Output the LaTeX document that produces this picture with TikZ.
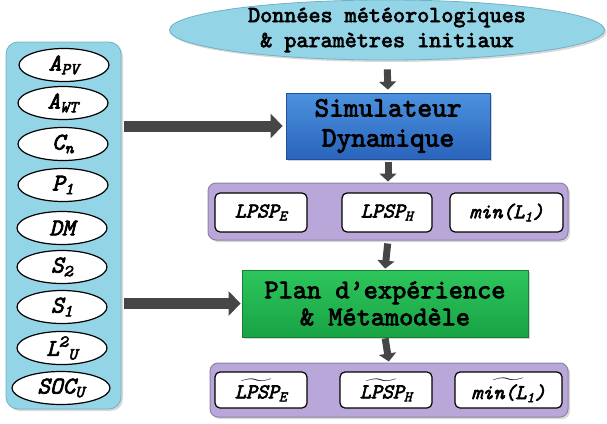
\documentclass[tikz,border=0pt]{standalone}
\usepackage{fontspec}
\setmonofont{lmmono10-regular.otf}[BoldFont=lmmono10-regular.otf, BoldFeatures={FakeBold=3},
  ItalicFont=lmmono10-italic.otf, BoldItalicFont=lmmono10-italic.otf, BoldItalicFeatures={FakeBold=3}]
\usepackage{amsmath}
\usetikzlibrary{arrows.meta,shapes.geometric,shadows}

\definecolor{bleuclair}{HTML}{93D4E6}
\definecolor{bleubord}{HTML}{6FB2C6}
\definecolor{bleuhaut}{HTML}{4C92DF}
\definecolor{bleubas}{HTML}{2A64BC}
\definecolor{vertHaut}{HTML}{2EC65C}
\definecolor{vertBas}{HTML}{18A345}
\definecolor{violetclair}{HTML}{B8A7D8}
\definecolor{violetbord}{HTML}{8E84A6}
\definecolor{gris}{HTML}{464646}

\newcommand\lab{\fontsize{24}{26}\selectfont\ttfamily\bfseries\itshape}
\newcommand\labc{\fontsize{21}{24}\selectfont\ttfamily\bfseries\itshape}
\newcommand\chapeau[1]{$\widetilde{\mbox{#1}}$}

\begin{document}
\begin{tikzpicture}[x=1pt,y=-1pt,
  panneau/.style={draw=bleubord, fill=bleuclair, rounded corners=12pt, line width=0.8pt,
    drop shadow={opacity=0.3, shadow xshift=2pt, shadow yshift=-2pt}},
  param/.style={ellipse, draw, fill=white, line width=1.2pt, minimum width=90pt,
    minimum height=33pt, inner sep=0pt, font=\lab},
  bloc/.style={draw, line width=0.8pt, align=center,
    drop shadow={opacity=0.35, shadow xshift=2pt, shadow yshift=-2pt}},
  sortie/.style={draw=violetbord, fill=violetclair, rounded corners=8pt, line width=1pt,
    drop shadow={opacity=0.3, shadow xshift=2pt, shadow yshift=-2pt}},
  critere/.style={draw, fill=white, rounded corners=5pt, line width=1.2pt,
    inner sep=0pt, font=\labc},
  fleche/.style={draw=gris, line width=11pt, -{Triangle[length=12pt,width=24pt]},
    shorten <=3pt},
  petite/.style={draw=gris, line width=7pt, -{Triangle[length=8pt,width=17pt]},
    shorten <=3pt, shorten >=1pt}
]
\useasboundingbox (0,0) rectangle (607,423);

\node[panneau, minimum width=115pt, minimum height=367pt] (params) at (63.5,225.5) {};
\node[param] (apv) at (64,65) {A\textsubscript{PV}};
\node[param] (awt) at (63,103) {A\textsubscript{WT}};
\node[param] (cn) at (63,144) {C\textsubscript{n}};
\node[param] (p1) at (63,185) {P\textsubscript{1}};
\node[param] (dm) at (62,228) {DM};
\node[param] (s2) at (62,267) {S\textsubscript{2}};
\node[param] (s1) at (62,307) {S\textsubscript{1}};
\node[param] (l2u) at (62,348) {L\textsuperscript{2}\textsubscript{U}};
\node[param, minimum width=98pt] (socu) at (61,388) {SOC\textsubscript{U}};

\node[ellipse, draw=bleubord, fill=bleuclair, line width=0.8pt, minimum width=435pt,
  minimum height=60pt, inner xsep=0pt, inner ysep=-8pt, align=center,
  font=\fontsize{23}{25}\selectfont\ttfamily\bfseries,
  drop shadow={opacity=0.3, shadow xshift=2pt, shadow yshift=-2pt}] (donnees) at (387,30)
  {Données météorologiques\\\& paramètres initiaux};

\node[bloc, draw=bleubas!80!black, top color=bleuhaut, bottom color=bleubas,
  minimum width=204pt, minimum height=66pt,
  font=\fontsize{28}{30}\selectfont\ttfamily\bfseries] (simu) at (388,126)
  {Simulateur\\Dynamique};

\node[sortie, minimum width=360pt, minimum height=57pt] (res1) at (388,211.5) {};
\node[critere, minimum width=92pt, minimum height=39pt] (lpspE) at (261,212.5) {LPSP\textsubscript{E}};
\node[critere, minimum width=90pt, minimum height=39pt] (lpspH) at (387,212.5) {LPSP\textsubscript{H}};
\node[critere, minimum width=113pt, minimum height=39pt] (minL) at (506.5,212.5) {min(L\textsubscript{1})};

\node[bloc, draw=vertBas!80!black, top color=vertHaut, bottom color=vertBas,
  minimum width=286pt, minimum height=67pt,
  font=\fontsize{27}{27}\selectfont\ttfamily\bfseries] (plan) at (385,303.5)
  {Plan d’expérience\\\& Métamodèle};

\node[sortie, minimum width=358pt, minimum height=54pt] (res2) at (389,390) {};
\node[critere, minimum width=92pt, minimum height=36pt] (lpspEt) at (261,390) {\chapeau{LPSP}\textsubscript{E}};
\node[critere, minimum width=92pt, minimum height=36pt] (lpspHt) at (386,390) {\chapeau{LPSP}\textsubscript{H}};
\node[critere, minimum width=107pt, minimum height=36pt] (minLt) at (508.5,390) {\chapeau{min(L\textsubscript{1})}};

\draw[petite, shorten <=9pt, shorten >=3pt] (donnees.south) -- (simu.north);
\draw[petite] (simu.south) -- (res1.north);
\draw[petite] (res1.south) -- (plan.north);
\draw[petite, shorten <=1pt] (plan.south) -- (res2.north);
\draw[fleche, shorten >=3pt] (params.east |- simu.west) -- (simu.west);
\draw[fleche, shorten >=1pt] (params.east |- plan.west) -- (plan.west);
\end{tikzpicture}
\end{document}
